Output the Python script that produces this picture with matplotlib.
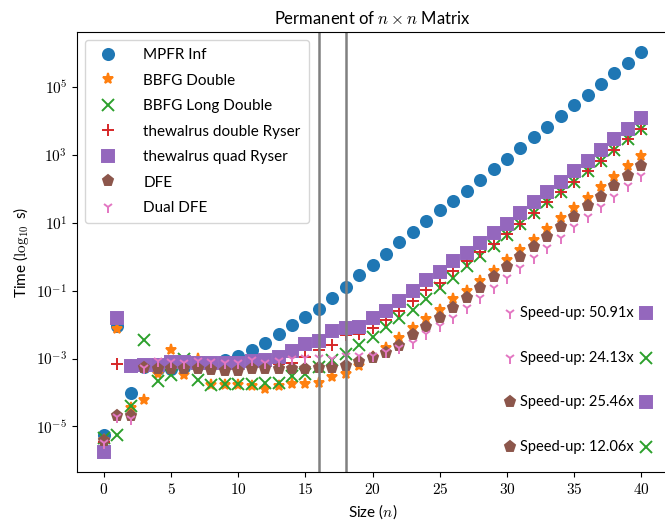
import numpy as np
import matplotlib
matplotlib.use("Agg")
import matplotlib.pyplot as plt
from matplotlib.ticker import FixedLocator, NullLocator, FuncFormatter

plt.rcParams['font.family'] = ['Lato', 'DejaVu Sans']
plt.rcParams['mathtext.fontset'] = 'cm'
plt.rcParams['font.size'] = 11

# matrix size
sizes = np.arange(0, 41)

# log10 of the run time in seconds for each implementation
mpfr_inf = [-5.24, -2.05, -4.01, -3.25, -3.30, -3.30, -3.25, -3.20, -3.15, -3.05,
            -2.91, -2.76, -2.54, -2.29, -2.00, -1.77, -1.53, -1.21, -0.88, -0.53,
            -0.24, 0.09, 0.42, 0.74, 1.06, 1.38, 1.63, 1.94, 2.26, 2.58,
            2.89, 3.21, 3.52, 3.83, 4.15, 4.46, 4.77, 5.09, 5.40, 5.70, 6.02]
bbfg_double = [-5.40, -2.13, -4.45, -4.23, -3.44, -2.74, -3.47, -3.01, -3.78, -3.79,
               -3.79, -3.81, -3.89, -3.81, -3.76, -3.76, -3.72, -3.55, -3.44, -3.23,
               -2.95, -2.69, -2.39, -2.10, -1.83, -1.56, -1.24, -1.02, -0.73, -0.43,
               -0.11, 0.21, 0.50, 0.81, 1.14, 1.43, 1.74, 2.05, 2.36, 2.68, 2.97]
bbfg_long_double = [-5.35, -5.24, -4.40, -2.44, -3.67, -3.47, -3.01, -3.62, -3.79, -3.76,
                    -3.76, -3.74, -3.72, -3.72, -3.52, -3.44, -3.24, -3.05, -2.86, -2.61,
                    -2.36, -2.07, -1.80, -1.56, -1.26, -0.92, -0.63, -0.28, 0.03, 0.32,
                    0.65, 0.97, 1.28, 1.60, 1.90, 2.21, 2.53, 2.83, 3.15, 3.46, 3.756]
walrus_double = [-5.45, -3.15, -3.20, -3.20, -3.20, -3.15, -3.15, -3.15, -3.17, -3.20,
                 -3.22, -3.20, -3.18, -3.15, -3.13, -2.96, -2.76, -2.59, -2.30, -2.29,
                 -2.10, -1.85, -1.61, -1.31, -0.99, -0.77, -0.43, -0.14, 0.13, 0.36,
                 0.66, 0.97, 1.28, 1.60, 1.90, 2.21, 2.53, 2.83, 3.15, 3.46, 3.76]
walrus_quad = [-5.76, -1.80, -3.21, -3.20, -3.18, -3.10, -3.10, -3.12, -3.14, -3.13,
               -3.13, -3.08, -3.03, -2.95, -2.78, -2.56, -2.49, -2.20, -2.10, -2.07,
               -1.80, -1.61, -1.31, -1.02, -0.68, -0.46, -0.12, 0.11, 0.40, 0.69,
               0.97, 1.28, 1.60, 1.90, 2.21, 2.53, 2.83, 3.15, 3.46, 3.76, 4.08]
dfe = [-5.43, -4.68, -4.68, -3.28, -3.32, -3.32, -3.32, -3.32, -3.34, -3.37,
       -3.37, -3.32, -3.32, -3.32, -3.32, -3.32, -3.28, -3.28, -3.21, -3.11,
       -2.98, -2.83, -2.62, -2.32, -2.07, -1.80, -1.51, -1.21, -0.92, -0.60,
       -0.31, -0.02, 0.28, 0.58, 0.87, 1.17, 1.48, 1.77, 2.09, 2.38, 2.674]
dual_dfe = [-5.48, -4.72, -4.79, -3.28, -3.08, -3.10, -3.13, -3.08, -3.11, -3.13,
            -3.12, -3.05, -3.13, -3.06, -3.00, -2.98, -2.98, -3.01, -2.91, -2.93,
            -2.91, -2.81, -2.69, -2.54, -2.29, -2.05, -1.80, -1.51, -1.21, -0.92,
            -0.63, -0.33, -0.04, 0.26, 0.55, 0.87, 1.17, 1.46, 1.77, 2.09, 2.373]

series = [
    ("MPFR Inf", mpfr_inf, "o", "C0"),
    ("BBFG Double", bbfg_double, "*", "C1"),
    ("BBFG Long Double", bbfg_long_double, "x", "C2"),
    ("thewalrus double Ryser", walrus_double, "+", "C3"),
    ("thewalrus quad Ryser", walrus_quad, "s", "C4"),
    ("DFE", dfe, "p", "C5"),
    ("Dual DFE", dual_dfe, "1", "C6"),
]

# speed-up at n=40: (fast marker, slow marker, text)
speedups = [
    (("1", "C6"), ("s", "C4"), "50.91"),
    (("1", "C6"), ("x", "C2"), "24.13"),
    (("p", "C5"), ("s", "C4"), "25.46"),
    (("p", "C5"), ("x", "C2"), "12.06"),
]
speedup_rows = [0.361, 0.259, 0.160, 0.058]

MS = 8

fig = plt.figure(figsize=(6.65, 5.21), dpi=100)
ax = fig.add_axes([0.1158, 0.0935, 0.889, 0.8445])

for label, vals, mk, col in series:
    ax.plot(sizes, 10.0 ** np.array(vals), linestyle="", marker=mk, color=col,
            markersize=MS, markeredgewidth=1.4, label=label)

ax.axvline(16, color="gray", lw=1.8)
ax.axvline(18, color="gray", lw=1.8)

ax.set_yscale("log")
ax.yaxis.set_major_locator(FixedLocator([10.0 ** k for k in range(-5, 6, 2)]))
ax.yaxis.set_minor_locator(NullLocator())
ax.yaxis.set_major_formatter(FuncFormatter(lambda v, p: r"$10^{%d}$" % round(np.log10(v))))
ax.set_xticks(range(0, 41, 5))
ax.xaxis.set_major_formatter(FuncFormatter(lambda v, p: r"$%d$" % v))

ax.set_title(r"Permanent of $n \times n$ Matrix", fontsize=12)
ax.set_xlabel(r"Size ($n$)")
ax.set_ylabel(r"Time ($\log_{10}$ s)")

ax.legend(loc="upper left", fontsize=11, labelspacing=0.75, handletextpad=1.3,
          borderpad=0.55)

for (fast, slow, txt), yf in zip(speedups, speedup_rows):
    ax.plot(0.733, yf, transform=ax.transAxes, linestyle="", marker=fast[0],
            color=fast[1], markersize=MS, markeredgewidth=1.4, clip_on=False)
    ax.text(0.749, yf, "Speed-up: %sx" % txt, transform=ax.transAxes,
            va="center", ha="left", fontsize=10.5)
    ax.plot(0.962, yf, transform=ax.transAxes, linestyle="", marker=slow[0],
            color=slow[1], markersize=MS, markeredgewidth=1.4, clip_on=False)

fig.savefig("out.png", dpi=100)
